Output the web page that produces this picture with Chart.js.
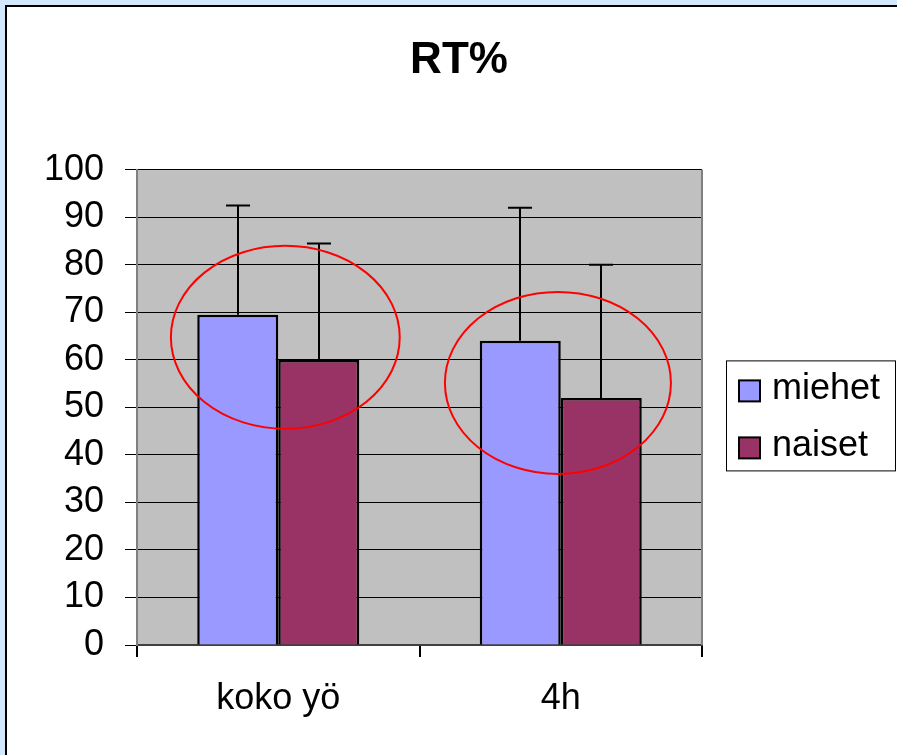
<!DOCTYPE html>
<html>
<head>
<meta charset="utf-8">
<script src="https://cdn.jsdelivr.net/npm/chart.js@4"></script>
<style>
  html, body { margin: 0; padding: 0; background: #d2e9fd; }
  #wrap { position: absolute; left: 0; top: 0; width: 897px; height: 755px; }
</style>
</head>
<body>
<div id="wrap"><canvas id="c" width="897" height="755"></canvas></div>
<script>
// ---- data ----
const categories = ['koko yö', '4h'];
const seriesNames = ['miehet', 'naiset'];
const miehet = [69.5, 64];
const naiset = [60, 52];
const miehetSD = [23, 28];
const naisetSD = [24.5, 28];
const titleText = 'RT%';
const yMin = 0, yMax = 100, yStep = 10;
// highlight ellipses in data units: [xFrom, xTo] in category units, [yLow, yHigh] in value units
const ellipseX = [[-0.38, 0.43], [0.59, 1.39]];
const ellipseY = [[45.5, 84], [36, 74.3]];

const FONT = '"Liberation Sans", Arial, sans-serif';
const colors = ['#9999ff', '#993366'];
const sds = [miehetSD, naisetSD];

const framePlugin = {
  id: 'frame',
  beforeDraw(chart) {
    const ctx = chart.ctx, a = chart.chartArea;
    ctx.save();
    ctx.fillStyle = '#d2e9fd';
    ctx.fillRect(0, 0, chart.width, chart.height);
    ctx.fillStyle = '#ffffff';
    ctx.fillRect(6, 6, chart.width, chart.height);
    ctx.strokeStyle = '#000';
    ctx.lineWidth = 2;
    ctx.beginPath();
    ctx.moveTo(6, chart.height + 5);
    ctx.lineTo(6, 6);
    ctx.lineTo(chart.width + 5, 6);
    ctx.stroke();
    ctx.fillStyle = '#c0c0c0';
    ctx.fillRect(a.left, a.top, a.right - a.left, a.bottom - a.top);
    ctx.restore();
  },
  beforeDatasetsDraw(chart) {
    const ctx = chart.ctx, a = chart.chartArea;
    ctx.save();
    ctx.strokeStyle = '#808080';
    ctx.lineWidth = 2;
    ctx.beginPath();
    ctx.moveTo(a.right, a.top);
    ctx.lineTo(a.right, a.bottom);
    ctx.stroke();
    ctx.restore();
  },
  afterDatasetsDraw(chart) {
    const ctx = chart.ctx, a = chart.chartArea;
    const ys = chart.scales.y, xs = chart.scales.x;
    ctx.save();
    // error bars
    ctx.strokeStyle = '#000';
    ctx.lineWidth = 2;
    chart.data.datasets.forEach((ds, di) => {
      const meta = chart.getDatasetMeta(di);
      meta.data.forEach((bar, i) => {
        const v = ds.data[i];
        const yTop = ys.getPixelForValue(v + sds[di][i]);
        const yBar = ys.getPixelForValue(v);
        const x = Math.round(bar.x);
        ctx.beginPath();
        ctx.moveTo(x, yBar);
        ctx.lineTo(x, yTop);
        ctx.moveTo(x - 12, yTop);
        ctx.lineTo(x + 12, yTop);
        ctx.stroke();
      });
    });
    // ellipses
    ctx.strokeStyle = '#ff0000';
    ctx.lineWidth = 2;
    ellipseX.forEach((ex, i) => {
      const x0 = xs.getPixelForValue(ex[0]), x1 = xs.getPixelForValue(ex[1]);
      const y0 = ys.getPixelForValue(ellipseY[i][1]), y1 = ys.getPixelForValue(ellipseY[i][0]);
      ctx.beginPath();
      ctx.ellipse((x0 + x1) / 2, (y0 + y1) / 2, (x1 - x0) / 2, (y1 - y0) / 2, 0, 0, Math.PI * 2);
      ctx.stroke();
    });
    // legend
    const lx = a.right + 24, ly = (a.top + a.bottom) / 2 - 47;
    const lw = 169, lh = 110;
    ctx.fillStyle = '#fff';
    ctx.fillRect(lx, ly, lw, lh);
    ctx.strokeStyle = '#000';
    ctx.lineWidth = 1;
    ctx.strokeRect(lx + 0.5, ly + 0.5, lw, lh);
    ctx.font = '36px ' + FONT;
    ctx.textBaseline = 'alphabetic';
    ctx.textAlign = 'left';
    seriesNames.forEach((name, i) => {
      const sy = ly + 20 + i * 57;
      ctx.fillStyle = colors[i];
      ctx.fillRect(lx + 13, sy, 21, 21);
      ctx.strokeStyle = '#000';
      ctx.lineWidth = 2;
      ctx.strokeRect(lx + 13, sy, 21, 21);
      ctx.fillStyle = '#000';
      ctx.fillText(name, lx + 46, sy + 19);
    });
    ctx.restore();
  }
};

new Chart(document.getElementById('c'), {
  type: 'bar',
  data: {
    labels: categories,
    datasets: [
      { label: seriesNames[0], data: miehet, backgroundColor: colors[0], borderColor: '#000', borderWidth: 2.5, borderSkipped: 'bottom' },
      { label: seriesNames[1], data: naiset, backgroundColor: colors[1], borderColor: '#000', borderWidth: 2.5, borderSkipped: 'bottom' }
    ]
  },
  options: {
    responsive: false,
    animation: false,
    events: [],
    layout: { padding: { left: 21, right: 0, top: 0, bottom: 0 } },
    datasets: { bar: { categoryPercentage: 0.5735, barPercentage: 1 } },
    plugins: {
      legend: { display: false },
      tooltip: { enabled: false },
      title: {
        display: true,
        text: titleText,
        color: '#000',
        font: { family: FONT, size: 44, weight: 'bold', lineHeight: 1.2 },
        padding: { top: 34, bottom: 83 }
      }
    },
    scales: {
      x: {
        offset: true,
        grid: { display: true, offset: true, drawOnChartArea: false, drawTicks: true, tickLength: 12, color: '#000', lineWidth: 2 },
        border: { display: true, color: '#404040', width: 2 },
        ticks: { color: '#000', font: { family: FONT, size: 36 }, padding: 20, maxRotation: 0 },
        afterFit(s) { s.height = 110; }
      },
      y: {
        min: yMin, max: yMax,
        grid: { color: '#000', lineWidth: 1, tickLength: 12, drawTicks: true },
        border: { display: true, color: '#808080', width: 2 },
        ticks: { stepSize: yStep, color: '#000', font: { family: FONT, size: 36 }, padding: 21 },
        afterFit(s) { s.width = 116; }
      },
      spacer: {
        type: 'linear',
        position: 'right',
        display: true,
        grid: { display: false },
        border: { display: false },
        ticks: { display: false },
        afterFit(s) { s.width = 195; }
      }
    }
  },
  plugins: [framePlugin]
});
</script>
</body>
</html>
